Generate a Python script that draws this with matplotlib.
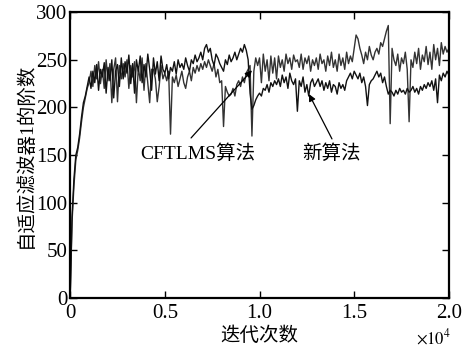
import numpy as np
import matplotlib
matplotlib.use("Agg")
import matplotlib.pyplot as plt

plt.rcParams['font.family'] = ['Liberation Serif', 'Noto Sans CJK SC', 'DejaVu Sans']
plt.rcParams['mathtext.fontset'] = 'stix'

# 迭代次数 (每 100 次取一个点)
iters = np.arange(0, 20001, 100)

# 新算法
new_alg = [
    0, 85, 125, 150, 158, 172, 190, 205, 212, 222,
    232, 220, 238, 226, 245, 218, 240, 232, 247, 215,
    242, 228, 250, 210, 238, 245, 222, 252, 230, 248,
    236, 255, 225, 246, 215, 250, 238, 254, 226, 245,
    232, 256, 240, 218, 252, 235, 248, 228, 254, 240,
    236, 245, 230, 242, 238, 248, 235, 250, 242, 246,
    240, 252, 244, 238, 250, 246, 255, 248, 252, 258,
    250, 262, 266, 258, 262, 250, 244, 256, 252, 246,
    242, 238, 250, 245, 255, 248, 252, 258, 250, 256,
    262, 258, 266, 260, 250, 215, 198, 202, 208, 212,
    215, 212, 220, 218, 224, 216, 226, 222, 228, 224,
    230, 222, 234, 226, 232, 220, 236, 228, 224, 230,
    196, 228, 222, 232, 216, 224, 212, 226, 230, 222,
    226, 230, 222, 228, 218, 226, 220, 228, 216, 224,
    222, 214, 226, 220, 224, 218, 228, 232, 236, 230,
    238, 234, 230, 236, 226, 232, 222, 202, 224, 228,
    230, 234, 238, 232, 236, 226, 232, 222, 214, 218,
    216, 212, 218, 214, 220, 216, 218, 214, 220, 216,
    218, 222, 216, 220, 214, 222, 218, 224, 220, 226,
    222, 228, 218, 230, 205, 234, 228, 236, 232, 238,
    234,
]

# CFTLMS算法
cftlms = [
    0, 80, 118, 145, 155, 168, 185, 200, 210, 220,
    226, 238, 222, 244, 230, 248, 225, 240, 220, 250,
    228, 246, 205, 240, 252, 206, 244, 230, 246, 232,
    250, 220, 244, 232, 248, 205, 242, 228, 252, 218,
    246, 226, 205, 240, 240, 230, 206, 222, 244, 230,
    236, 228, 238, 172, 232, 226, 234, 222, 230, 238,
    226, 220, 232, 238, 228, 242, 236, 244, 238, 246,
    240, 248, 242, 250, 244, 238, 246, 232, 240, 226,
    228, 180, 222, 216, 212, 214, 220, 212, 224, 228,
    222, 232, 226, 236, 240, 244, 170, 238, 252, 244,
    252, 226, 256, 238, 250, 228, 254, 236, 252, 230,
    254, 242, 250, 238, 256, 246, 252, 240, 255, 248,
    250, 242, 256, 240, 252, 246, 254, 238, 250, 244,
    252, 240, 256, 246, 250, 238, 254, 244, 258, 242,
    250, 238, 256, 244, 252, 240, 258, 246, 254, 248,
    262, 276, 272, 262, 255, 246, 258, 250, 264, 255,
    250, 258, 262, 256, 268, 264, 272, 280, 286, 183,
    262, 250, 244, 256, 238, 252, 246, 258, 240, 185,
    250, 242, 258, 246, 262, 240, 255, 248, 264, 245,
    258, 240, 266, 250, 262, 244, 268, 256, 264, 258,
    262,
]

xticks = [0, 5000, 10000, 15000, 20000]
xticklabels = ['0', '0.5', '1.0', '1.5', '2.0']
yticks = [0, 50, 100, 150, 200, 250, 300]

fig = plt.figure(figsize=(4.74, 3.47), dpi=100)
ax = fig.add_axes([0.148, 0.141, 0.799, 0.824])

ax.plot(iters, cftlms, color='#333333', lw=1.0)
ax.plot(iters, new_alg, color='#111111', lw=1.0)

ax.set_xlim(0, 20000)
ax.set_ylim(0, 300)
ax.set_xticks(xticks, xticklabels)
ax.set_yticks(yticks)
ax.tick_params(direction='in', top=True, right=True, length=5, width=1,
               labelsize=15, pad=2)
ax.tick_params(axis='x', pad=4)
for s in ax.spines.values():
    s.set_linewidth(1.6)

ax.set_xlabel('迭代次数', fontsize=14, labelpad=3)
ax.set_ylabel('自适应滤波器1的阶数', fontsize=14, labelpad=1)
ax.text(1.005, -0.105, r'$\times 10^4$', transform=ax.transAxes,
        ha='right', va='top', fontsize=12)

arrow = dict(arrowstyle='-|>', color='k', lw=0.9, mutation_scale=10,
             shrinkA=0, shrinkB=0)
ax.annotate('', xy=(9600, 239), xytext=(6385, 168), arrowprops=arrow)
ax.annotate('', xy=(12612, 214), xytext=(13826, 167), arrowprops=arrow)
ax.text(6755, 152, 'CFTLMS算法', ha='center', va='center', fontsize=14)
ax.text(13826, 152, '新算法', ha='center', va='center', fontsize=14)

fig.savefig('out.png', dpi=100)
